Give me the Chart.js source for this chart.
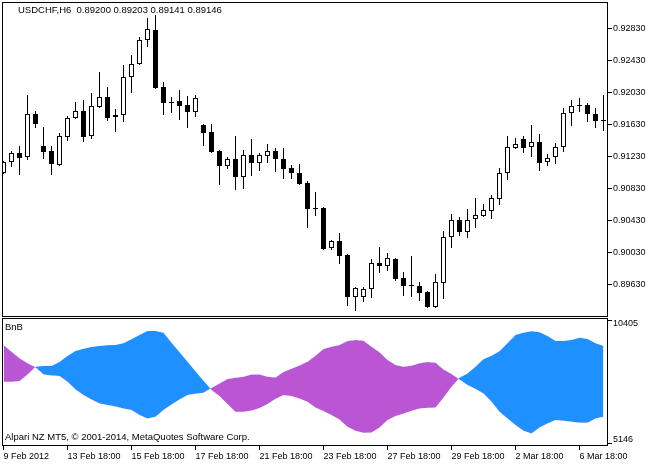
<!DOCTYPE html>
<html>
<head>
<meta charset="utf-8">
<script src="https://cdn.jsdelivr.net/npm/chart.js@4.4.1/dist/chart.umd.min.js"></script>
<style>
  html, body { margin: 0; padding: 0; background: #fff; }
  #wrap { position: relative; width: 660px; height: 465px; overflow: hidden;
          font-family: 'Liberation Sans', Arial, sans-serif; font-size: 9.5px; color: #000; }
  #price { position: absolute; left: 0; top: 0; }
  #bnb { position: absolute; left: 0; top: 309px; }
  .lbl { position: absolute; white-space: pre; line-height: 11px; }
</style>
</head>
<body>
<div id="wrap">
  <canvas id="price" width="660" height="317"></canvas>
  <canvas id="bnb" width="660" height="156"></canvas>
  <div class="lbl" style="left:18px; top:4px">USDCHF,H6  0.89200 0.89203 0.89141 0.89146</div>
  <div class="lbl" style="left:5px; top:321px">BnB</div>
  <div class="lbl" style="left:5px; top:431px">Alpari NZ MT5, © 2001-2014, MetaQuotes Software Corp.</div>
</div>
<script>
// USDCHF H6 bars, 9 Feb - 7 Mar 2012
const opens = [0.91021,0.91159,0.91271,0.91221,0.91759,0.91359,0.91296,0.91121,0.91471,0.91709,
  0.91796,0.91484,0.91846,0.91971,0.91721,0.91746,0.92221,0.92384,0.92684,0.92809,
  0.92096,0.91909,0.91921,0.91871,0.91784,0.91621,0.91534,0.91296,0.91109,0.91196,
  0.90971,0.91246,0.91146,0.91234,0.91296,0.91196,0.91084,0.91021,0.90896,0.90584,
  0.90584,0.90084,0.90171,0.89996,0.89471,0.89471,0.89571,0.89896,0.89859,0.89946,
  0.89709,0.89621,0.89609,0.89534,0.89346,0.89646,0.90221,0.90434,0.90284,0.90446,
  0.90484,0.90546,0.90696,0.91021,0.91334,0.91446,0.91346,0.91409,0.91159,0.91221,
  0.91346,0.91771,0.91859,0.91871,0.91759,0.91684];
const highs = [0.91171,0.91296,0.91359,0.91996,0.91796,0.91596,0.91359,0.91521,0.91734,0.91909,
  0.91934,0.92021,0.92284,0.92096,0.91821,0.92371,0.92496,0.92721,0.92959,0.92996,
  0.92159,0.91971,0.92059,0.91984,0.91996,0.91634,0.91634,0.91309,0.91221,0.91484,
  0.91309,0.91446,0.91271,0.91384,0.91334,0.91334,0.91121,0.91134,0.90921,0.90784,
  0.90596,0.90184,0.90271,0.90009,0.89596,0.89596,0.89946,0.90096,0.90021,0.89959,
  0.89784,0.89984,0.89659,0.89546,0.89759,0.90296,0.90509,0.90471,0.90571,0.90709,
  0.90634,0.90746,0.91084,0.91484,0.91459,0.91484,0.91621,0.91509,0.91259,0.91396,
  0.91834,0.91934,0.91959,0.91896,0.91834,0.91996];
const lows = [0.91009,0.91096,0.90996,0.91184,0.91584,0.91196,0.90996,0.91109,0.91421,0.91696,
  0.91409,0.91446,0.91834,0.91671,0.91534,0.91659,0.92021,0.92371,0.92596,0.92071,
  0.91746,0.91771,0.91684,0.91584,0.91721,0.91359,0.91271,0.90871,0.91071,0.90809,
  0.90821,0.90984,0.91046,0.91146,0.91034,0.90946,0.90946,0.90871,0.90334,0.90484,
  0.90059,0.90059,0.89884,0.89359,0.89296,0.89409,0.89459,0.89771,0.89796,0.89671,
  0.89484,0.89471,0.89421,0.89334,0.89334,0.89446,0.90084,0.90234,0.90209,0.90334,
  0.90471,0.90446,0.90621,0.90934,0.91321,0.91271,0.91221,0.91046,0.91109,0.91134,
  0.91284,0.91609,0.91784,0.91659,0.91584,0.91546];
const closes = [0.91159,0.91271,0.91209,0.91759,0.91634,0.91284,0.91134,0.91484,0.91709,0.91796,
  0.91471,0.91859,0.91971,0.91709,0.91746,0.92221,0.92384,0.92684,0.92821,0.92084,
  0.91896,0.91896,0.91859,0.91784,0.91959,0.91521,0.91284,0.91109,0.91196,0.90971,
  0.91246,0.91146,0.91246,0.91296,0.91196,0.91071,0.91021,0.90884,0.90571,0.90571,
  0.90071,0.90171,0.89984,0.89471,0.89584,0.89571,0.89896,0.89859,0.89959,0.89696,
  0.89609,0.89609,0.89521,0.89346,0.89659,0.90221,0.90434,0.90284,0.90434,0.90496,
  0.90559,0.90709,0.91021,0.91346,0.91384,0.91334,0.91409,0.91146,0.91209,0.91346,
  0.91771,0.91859,0.91871,0.91759,0.91671,0.91671];

// BnB indicator lines
const bulls = [7808,7808,7836,8122,8450,8479,8479,8650,8907,9121,
  9221,9292,9335,9363,9378,9449,9620,9806,9977,9977,
  9906,9478,9064,8664,8250,7851,7451,7194,6852,6524,
  6524,6581,6681,6852,7080,7237,7194,7094,6952,6709,
  6552,6381,6196,5882,5710,5625,5639,5853,6167,6338,
  6452,6566,6666,6695,6709,7137,7594,7979,8165,8450,
  8764,8921,9107,9449,9806,9906,9963,9920,9763,9549,
  9549,9592,9692,9635,9449,9335];
const bears = [9378,9092,8807,8593,8422,8122,8079,8051,7808,7480,
  7237,7052,6880,6809,6752,6666,6595,6381,6238,6310,
  6595,6838,7052,7237,7294,7337,7537,7737,7922,7979,
  8022,8122,8122,8022,7993,8222,8364,8507,8664,8921,
  9206,9306,9378,9549,9592,9563,9306,9064,8736,8521,
  8450,8493,8593,8650,8621,8336,8136,7908,7665,7494,
  7309,6952,6524,6238,5953,5710,5596,5853,6024,6167,
  6138,6095,6052,6052,6238,6310];

const timeLabels = ['9 Feb 2012', '13 Feb 18:00', '15 Feb 18:00', '17 Feb 18:00', '21 Feb 18:00',
  '23 Feb 18:00', '27 Feb 18:00', '29 Feb 18:00', '2 Mar 18:00', '6 Mar 18:00'];
const labelBars = [0, 8, 16, 24, 32, 40, 48, 56, 64, 72];
const priceTicks = [0.89630, 0.90030, 0.90430, 0.90830, 0.91230, 0.91630, 0.92030, 0.92430, 0.92830];
const bnbTicks = [5146, 10405];

const FONT = { family: "'Liberation Sans', Arial, sans-serif", size: 9 };
const X_MIN = -0.1875, X_MAX = 75.5625;

// pane frame
const framePlugin = {
    id: 'frame',
    afterDraw(chart) {
        const { left, top, right, bottom } = chart.chartArea;
        const ctx = chart.ctx;
        ctx.save();
        ctx.strokeStyle = '#000';
        ctx.lineWidth = 1;
        ctx.strokeRect(left + 0.5, top + 0.5, right - left - 1, bottom - top - 1);
        ctx.restore();
    }
};

const fitRight = (scale) => {
    scale.width = 52;
    scale.paddingTop = 0;
    scale.paddingBottom = 0;
};

// =========================
// candles
// =========================
new Chart(document.getElementById('price'), {
    type: 'bar',
    data: {
        datasets: [
            {
                data: opens.map((o, i) => ({ x: i, y: [o, closes[i]] })),
                backgroundColor: ctx => closes[ctx.dataIndex] > opens[ctx.dataIndex] ? '#fff' : '#000',
                borderColor: '#000',
                borderWidth: 1,
                borderSkipped: false,
                barThickness: 5,
                grouped: false,
                inflateAmount: 0,
            },
            {
                data: lows.map((l, i) => ({ x: i, y: [l, highs[i]] })),
                backgroundColor: '#000',
                borderWidth: 0,
                barThickness: 1,
                grouped: false,
                inflateAmount: 0,
            }
        ]
    },
    options: {
        responsive: false,
        animation: false,
        devicePixelRatio: 1,
        layout: { padding: { left: 2, top: 2, right: 0, bottom: 0 } },
        plugins: { legend: { display: false }, tooltip: { enabled: false } },
        scales: {
            x: { type: 'linear', min: X_MIN, max: X_MAX, offset: false, display: false },
            y: {
                position: 'right',
                min: 0.89221,
                max: 0.93159,
                afterBuildTicks: axis => { axis.ticks = priceTicks.map(v => ({ value: v })); },
                afterFit: fitRight,
                ticks: { callback: v => v.toFixed(5), color: '#000', font: FONT, padding: 1 },
                grid: { drawOnChartArea: false, drawTicks: true, tickLength: 4, color: '#000' },
                border: { display: false },
            }
        }
    },
    plugins: [framePlugin]
});

// =========================
// BnB pane
// =========================
const bnbLabels = {
    id: 'bnbLabels',
    afterDraw(chart) {
        const y = chart.scales.y;
        const ctx = chart.ctx;
        ctx.save();
        ctx.fillStyle = '#000';
        ctx.font = `${FONT.size}px ${FONT.family}`;
        ctx.textBaseline = 'middle';
        ctx.textAlign = 'left';
        bnbTicks.forEach((v, i) => {
            const shift = i === 0 ? -4.5 : 3;
            ctx.fillText(String(v), chart.chartArea.right + 5, y.getPixelForValue(v) + shift);
        });
        ctx.restore();
    }
};

new Chart(document.getElementById('bnb'), {
    type: 'line',
    data: {
        datasets: [
            {
                data: bulls.map((v, i) => ({ x: i, y: v })),
                fill: { target: 1, above: '#1E90FF', below: '#BA55D3' },
                borderColor: 'rgba(0,0,0,0)',
                borderWidth: 0,
                pointRadius: 0,
                tension: 0,
            },
            {
                data: bears.map((v, i) => ({ x: i, y: v })),
                fill: false,
                borderColor: 'rgba(0,0,0,0)',
                borderWidth: 0,
                pointRadius: 0,
                tension: 0,
            }
        ]
    },
    options: {
        responsive: false,
        animation: false,
        devicePixelRatio: 1,
        layout: { padding: { left: 2, top: 9, right: 0, bottom: 0 } },
        plugins: { legend: { display: false }, tooltip: { enabled: false } },
        scales: {
            x: {
                type: 'linear',
                min: X_MIN,
                max: X_MAX,
                afterBuildTicks: axis => { axis.ticks = labelBars.map(v => ({ value: v })); },
                afterFit: scale => { scale.height = 19; scale.paddingLeft = 0; scale.paddingRight = 0; },
                ticks: {
                    callback: v => timeLabels[labelBars.indexOf(v)],
                    align: 'start',
                    autoSkip: false,
                    maxRotation: 0,
                    color: '#000',
                    font: FONT,
                    padding: 1,
                },
                grid: { drawOnChartArea: false, drawTicks: true, tickLength: 4, color: '#000' },
                border: { display: false },
            },
            y: {
                position: 'right',
                min: 5060,
                max: 10533,
                afterBuildTicks: axis => { axis.ticks = bnbTicks.map(v => ({ value: v })); },
                afterFit: fitRight,
                ticks: { display: false },
                grid: { drawOnChartArea: false, drawTicks: true, tickLength: 4, color: '#000' },
                border: { display: false },
            }
        }
    },
    plugins: [framePlugin, bnbLabels]
});
</script>
</body>
</html>
